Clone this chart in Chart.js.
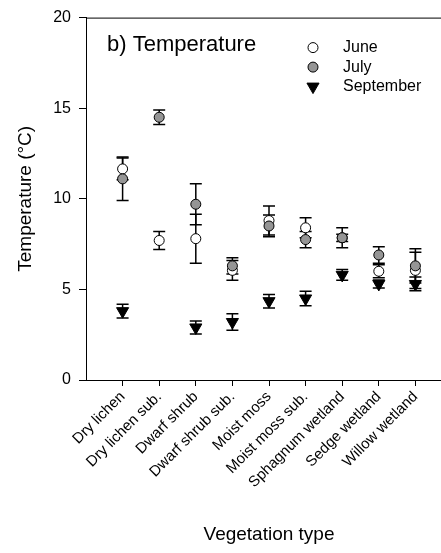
<!DOCTYPE html>
<html>
<head>
<meta charset="utf-8">
<script src="https://cdn.jsdelivr.net/npm/chart.js@4"></script>
<style>
  body { margin: 0; background: #fff; }
  #wrap { width: 441px; height: 553px; overflow: hidden; }
</style>
</head>
<body>
<div id="wrap"><canvas id="chart" width="470" height="553"></canvas></div>
<script>
const categories = ['Dry lichen', 'Dry lichen sub.', 'Dwarf shrub', 'Dwarf shrub sub.', 'Moist moss',
  'Moist moss sub.', 'Sphagnum wetland', 'Sedge wetland', 'Willow wetland']

// mean temperature (C) and error
const june = [11.65, 7.7, 7.8, 6.05, 8.8, 8.4, 7.85, 6.0, 6.05]
const juneErr = [0.6, 0.5, 1.35, 0.55, 0.8, 0.55, 0.2, 0.36, 1.0]
const july = [11.1, 14.5, 9.7, 6.3, 8.5, 7.75, 7.85, 6.9, 6.3]
const julyErr = [1.2, 0.4, 1.13, 0.45, 0.6, 0.45, 0.55, 0.45, 0.95]
const sept = [3.8, null, 2.9, 3.2, 4.35, 4.5, 5.8, 5.3, 5.3]
const septErr = [0.38, null, 0.36, 0.45, 0.37, 0.4, 0.3, 0.22, 0.38]

const yTicks = [0, 5, 10, 15, 20]

const FONT = '"Liberation Sans", Arial, sans-serif'

function points(values) {
  return values.map((v, i) => ({ x: i + 1, y: v }))
}

const errorBars = {
  id: 'errorBars',
  beforeDatasetsDraw(chart) {
    const { ctx, scales: { x, y } } = chart
    ctx.save()
    ctx.strokeStyle = '#000'
    ctx.lineWidth = 1.5
    chart.data.datasets.forEach((ds) => {
      ds.data.forEach((p, i) => {
        const e = ds.errors[i]
        if (p.y == null || e == null) return
        const px = x.getPixelForValue(p.x)
        const top = y.getPixelForValue(p.y + e)
        const bot = y.getPixelForValue(p.y - e)
        ctx.beginPath()
        ctx.moveTo(px, top); ctx.lineTo(px, bot)
        ctx.moveTo(px - 6, top); ctx.lineTo(px + 6, top)
        ctx.moveTo(px - 6, bot); ctx.lineTo(px + 6, bot)
        ctx.stroke()
      })
    })
    ctx.restore()
  }
}

// panel label, legend and top frame line
const decorations = {
  id: 'decorations',
  afterDraw(chart) {
    const { ctx, chartArea } = chart
    ctx.save()
    ctx.strokeStyle = '#000'
    ctx.lineWidth = 1
    ctx.beginPath()
    ctx.moveTo(chartArea.left, chartArea.top + 0.5)
    ctx.lineTo(chartArea.right, chartArea.top + 0.5)
    ctx.stroke()

    ctx.fillStyle = '#000'
    ctx.textBaseline = 'middle'
    ctx.font = '22px ' + FONT
    ctx.fillText('b) Temperature', chartArea.left + 21, chartArea.top + 27)

    ctx.font = '16px ' + FONT
    chart.data.datasets.forEach((ds, i) => {
      const lx = chartArea.left + 227
      const ly = chartArea.top + 30 + i * 19.5
      ctx.fillStyle = ds.backgroundColor
      ctx.strokeStyle = ds.borderColor
      ctx.lineWidth = 1
      Chart.helpers.drawPoint(ctx, {
        pointStyle: ds.pointStyle, radius: ds.pointRadius, rotation: ds.rotation || 0, borderWidth: 1
      }, lx, ly)
      ctx.fillStyle = '#000'
      ctx.fillText(ds.label, lx + 30, ly)
    })
    ctx.restore()
  }
}

new Chart(document.getElementById('chart'), {
  type: 'scatter',
  data: {
    datasets: [
      {
        label: 'June',
        data: points(june),
        errors: juneErr,
        pointStyle: 'circle',
        pointRadius: 5,
        backgroundColor: '#ffffff',
        borderColor: '#000000',
        borderWidth: 1,
        order: 2
      },
      {
        label: 'July',
        data: points(july),
        errors: julyErr,
        pointStyle: 'circle',
        pointRadius: 5,
        backgroundColor: '#959595',
        borderColor: '#000000',
        borderWidth: 1,
        order: 1
      },
      {
        label: 'September',
        data: points(sept),
        errors: septErr,
        pointStyle: 'triangle',
        rotation: 180,
        pointRadius: 7,
        backgroundColor: '#000000',
        borderColor: '#000000',
        borderWidth: 1,
        order: 0
      }
    ]
  },
  options: {
    responsive: false,
    animation: false,
    layout: { padding: { left: 0, top: 13, right: 18, bottom: 0 } },
    plugins: {
      legend: { display: false },
      tooltip: { enabled: false }
    },
    scales: {
      x: {
        type: 'linear',
        min: 0,
        max: categories.length + 1,
        afterBuildTicks: (scale) => {
          scale.ticks = categories.map((c, i) => ({ value: i + 1 }))
        },
        afterFit: (scale) => { scale.height = 173 },
        grid: { drawOnChartArea: false, tickLength: 6, tickColor: '#000', tickWidth: 1 },
        border: { color: '#000', width: 1 },
        ticks: {
          autoSkip: false,
          minRotation: 45,
          maxRotation: 45,
          padding: 2,
          color: '#000',
          font: { family: FONT, size: 15 },
          callback: (v) => categories[v - 1]
        },
        title: {
          display: true,
          text: 'Vegetation type',
          color: '#000',
          font: { family: FONT, size: 19 },
          padding: { top: 0, bottom: 7 }
        }
      },
      y: {
        min: 0,
        max: 20,
        afterBuildTicks: (scale) => {
          scale.ticks = yTicks.map((v) => ({ value: v }))
        },
        afterFit: (scale) => { scale.width = 86 },
        grid: { drawOnChartArea: false, tickLength: 7, tickColor: '#000', tickWidth: 1 },
        border: { color: '#000', width: 1 },
        ticks: {
          padding: 8,
          color: '#000',
          font: { family: FONT, size: 16 }
        },
        title: {
          display: true,
          text: 'Temperature (°C)',
          color: '#000',
          font: { family: FONT, size: 19 },
          padding: { top: 14, bottom: 0 }
        }
      }
    }
  },
  plugins: [errorBars, decorations]
})
</script>
</body>
</html>
